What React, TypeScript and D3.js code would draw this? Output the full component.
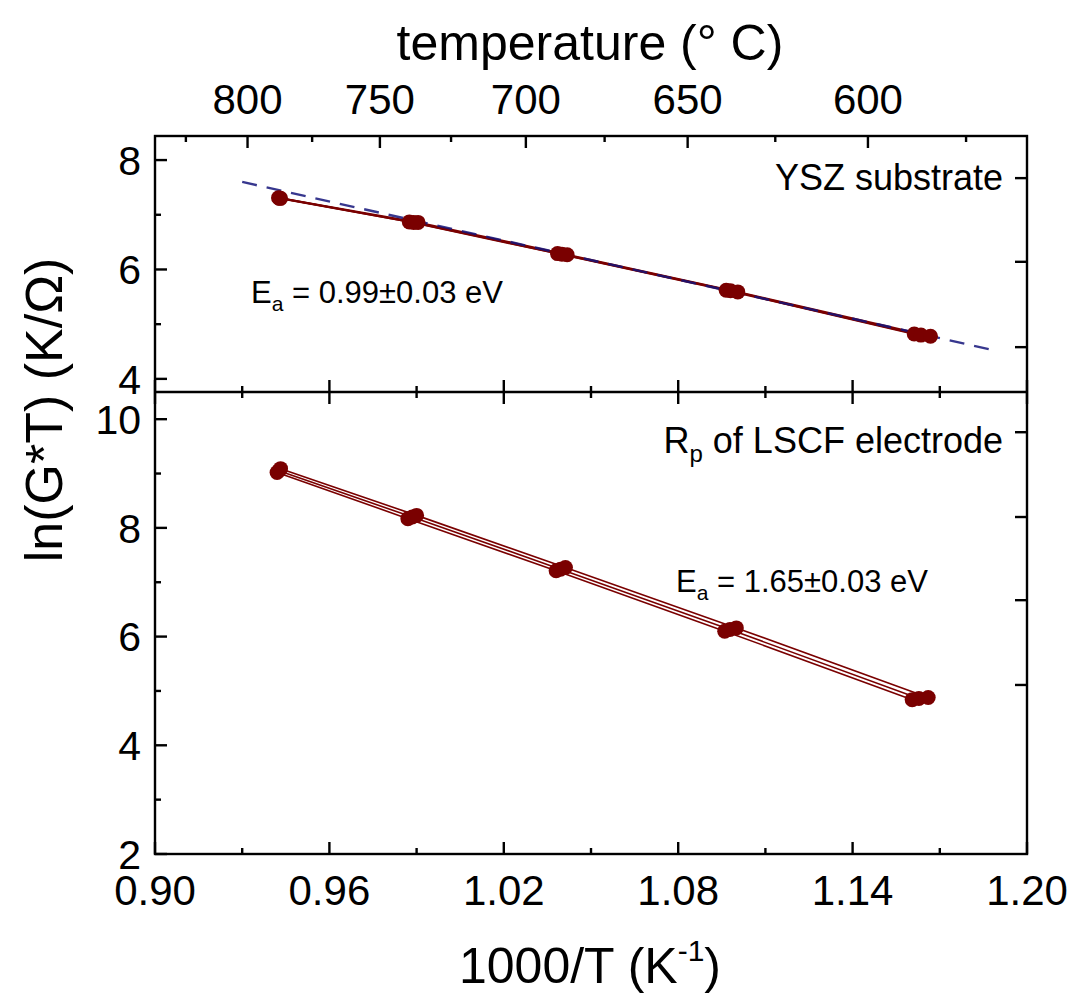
import React from "react";
import * as d3 from "d3";

// ---- data ----
const xTickValues = [0.90, 0.96, 1.02, 1.08, 1.14, 1.20];
const xMinorValues = [0.93, 0.99, 1.05, 1.11, 1.17];
const tempMajor = [800, 750, 700, 650, 600];
const tempMinor = [825, 775, 725, 675, 625, 575];
const topYTicks = [4, 6, 8];
const topYMinor = [5, 7];
const botYTicks = [2, 4, 6, 8, 10];
const botYMinor = [3, 5, 7, 9];
const topRightTicks = [7.67, 6.14, 4.58];
const botRightTicks = [9.76, 8.2, 6.67, 5.11];

// YSZ substrate (top panel), three runs
const topX1 = [0.9425, 0.9875, 1.0385, 1.0965, 1.1612];
const topY1 = [7.31, 6.87, 6.29, 5.62, 4.82];
const topX2 = [0.9428, 0.989, 1.04, 1.098, 1.1635];
const topY2 = [7.3, 6.86, 6.28, 5.61, 4.8];
const topX3 = [0.9432, 0.9905, 1.0418, 1.1005, 1.1668];
const topY3 = [7.3, 6.86, 6.27, 5.59, 4.78];
// dashed reference line (top)
const dashX = [0.93, 1.188];
const dashY = [7.6, 4.53];

// Rp of LSCF electrode (bottom panel), three runs
const botX1 = [0.942, 0.987, 1.038, 1.096, 1.1605];
const botY1 = [9.02, 8.17, 7.21, 6.1, 4.84];
const botX2 = [0.9426, 0.9885, 1.0395, 1.0978, 1.1628];
const botY2 = [9.05, 8.2, 7.24, 6.13, 4.86];
const botX3 = [0.9432, 0.99, 1.0412, 1.1, 1.166];
const botY3 = [9.09, 8.23, 7.27, 6.16, 4.88];

const FONT = "'Liberation Sans', Arial, Helvetica, sans-serif";
const RED = "#7a0000";

export default function App() {
  const L = 155, R = 1027, T = 136, MID = 392, B = 854;
  const x = d3.scaleLinear().domain([0.9, 1.2]).range([L, R]);
  const yTop = d3.scaleLinear().domain([3.76, 8.44]).range([MID, T]);
  const yBot = d3.scaleLinear().domain([2, 10.5]).range([B, MID]);
  const tx = (c: number) => x(1000 / (c + 273.15));

  const topSeries = [
    [topX1, topY1],
    [topX2, topY2],
    [topX3, topY3],
  ];
  const botSeries = [
    [botX1, botY1],
    [botX2, botY2],
    [botX3, botY3],
  ];

  const mkLine = (ys: d3.ScaleLinear<number, number>) =>
    d3
      .line<[number, number]>()
      .x((d) => x(d[0]))
      .y((d) => ys(d[1]));
  const lineTop = mkLine(yTop);
  const lineBot = mkLine(yBot);
  const zip = (a: number[], b: number[]) => a.map((v, i) => [v, b[i]] as [number, number]);

  const MAJ = 12, MIN = 6, SW = 2.4;

  return (
    <svg
      width={1074}
      height={996}
      style={{ position: "absolute", left: 0, top: 0, background: "#fff" }}
      fontFamily={FONT}
    >
      <rect x={0} y={0} width={1074} height={996} fill="#fff" />

      {/* titles */}
      <text x={590} y={60} fontSize={50} textAnchor="middle">
        temperature (° C)
      </text>
      <text x={590} y={983} fontSize={50} textAnchor="middle">
        1000/T (K
        <tspan fontSize={30} dy={-22}>-1</tspan>
        <tspan dy={22}>)</tspan>
      </text>
      <text
        transform={`translate(62, ${(T + B) / 2 - 85}) rotate(-90)`}
        fontSize={52}
        textAnchor="middle"
      >
        ln(G*T) (K/Ω)
      </text>

      {/* top temperature axis */}
      {tempMajor.map((c) => (
        <g key={"tm" + c}>
          <line x1={tx(c)} x2={tx(c)} y1={T} y2={T + MAJ} stroke="#000" strokeWidth={SW} />
          <text x={tx(c)} y={114} fontSize={42} textAnchor="middle">
            {c}
          </text>
        </g>
      ))}
      {tempMinor.map((c) => (
        <line key={"tn" + c} x1={tx(c)} x2={tx(c)} y1={T} y2={T + MIN} stroke="#000" strokeWidth={SW} />
      ))}

      {/* bottom x axis and divider ticks */}
      {xTickValues.map((v) => (
        <g key={"xt" + v}>
          <line x1={x(v)} x2={x(v)} y1={B} y2={B - MAJ} stroke="#000" strokeWidth={SW} />
          <line x1={x(v)} x2={x(v)} y1={MID - MAJ} y2={MID + MAJ} stroke="#000" strokeWidth={SW} />
          <text x={x(v)} y={905} fontSize={42} textAnchor="middle">
            {v.toFixed(2)}
          </text>
        </g>
      ))}
      {xMinorValues.map((v) => (
        <g key={"xn" + v}>
          <line x1={x(v)} x2={x(v)} y1={B} y2={B - MIN} stroke="#000" strokeWidth={SW} />
          <line x1={x(v)} x2={x(v)} y1={MID - MIN} y2={MID + MIN} stroke="#000" strokeWidth={SW} />
        </g>
      ))}

      {/* left y axes */}
      {topYTicks.map((v) => (
        <g key={"yt" + v}>
          <line x1={L} x2={L + MAJ} y1={yTop(v)} y2={yTop(v)} stroke="#000" strokeWidth={SW} />
          <text x={141} y={yTop(v)} dy="0.36em" fontSize={41} textAnchor="end">
            {v}
          </text>
        </g>
      ))}
      {topYMinor.map((v) => (
        <line key={"yn" + v} x1={L} x2={L + MIN} y1={yTop(v)} y2={yTop(v)} stroke="#000" strokeWidth={SW} />
      ))}
      {botYTicks.map((v) => (
        <g key={"yb" + v}>
          <line x1={L} x2={L + MAJ} y1={yBot(v)} y2={yBot(v)} stroke="#000" strokeWidth={SW} />
          <text x={141} y={yBot(v)} dy="0.36em" fontSize={41} textAnchor="end">
            {v}
          </text>
        </g>
      ))}
      {botYMinor.map((v) => (
        <line key={"ybn" + v} x1={L} x2={L + MIN} y1={yBot(v)} y2={yBot(v)} stroke="#000" strokeWidth={SW} />
      ))}

      {/* right ticks */}
      {topRightTicks.map((v) => (
        <line key={"rt" + v} x1={R - MAJ} x2={R} y1={yTop(v)} y2={yTop(v)} stroke="#000" strokeWidth={SW} />
      ))}
      {botRightTicks.map((v) => (
        <line key={"rb" + v} x1={R - MAJ} x2={R} y1={yBot(v)} y2={yBot(v)} stroke="#000" strokeWidth={SW} />
      ))}

      {/* frames */}
      <rect x={L} y={T} width={R - L} height={B - T} fill="none" stroke="#000" strokeWidth={SW} />
      <line x1={L} x2={R} y1={MID} y2={MID} stroke="#000" strokeWidth={SW} />

      {/* top panel data */}
      {topSeries.map(([xs, ys], i) => (
        <path key={"tl" + i} d={lineTop(zip(xs, ys)) || ""} fill="none" stroke={RED} strokeWidth={2} />
      ))}
      <path
        d={lineTop(zip(dashX, dashY)) || ""}
        fill="none"
        stroke="#14147a"
        strokeWidth={2.4}
        strokeDasharray="15 10"
        opacity={0.85}
      />
      {topSeries.map(([xs, ys], i) =>
        xs.map((v, j) => (
          <circle key={`tp${i}-${j}`} cx={x(v)} cy={yTop(ys[j])} r={7.5} fill={RED} />
        ))
      )}

      {/* bottom panel data */}
      {botSeries.map(([xs, ys], i) => (
        <path key={"bl" + i} d={lineBot(zip(xs, ys)) || ""} fill="none" stroke={RED} strokeWidth={1.6} />
      ))}
      {botSeries.map(([xs, ys], i) =>
        xs.map((v, j) => (
          <circle key={`bp${i}-${j}`} cx={x(v)} cy={yBot(ys[j])} r={7.5} fill={RED} />
        ))
      )}

      {/* annotations */}
      <text x={1003} y={190} fontSize={36} textAnchor="end">
        YSZ substrate
      </text>
      <text x={251} y={303} fontSize={31}>
        E<tspan fontSize={21} dy={8}>a</tspan>
        <tspan dy={-8}> = 0.99±0.03 eV</tspan>
      </text>
      <text x={1003} y={453} fontSize={36} textAnchor="end">
        R<tspan fontSize={24} dy={9}>p</tspan>
        <tspan dy={-9}> of LSCF electrode</tspan>
      </text>
      <text x={676} y={592} fontSize={31}>
        E<tspan fontSize={21} dy={8}>a</tspan>
        <tspan dy={-8}> = 1.65±0.03 eV</tspan>
      </text>
    </svg>
  );
}
